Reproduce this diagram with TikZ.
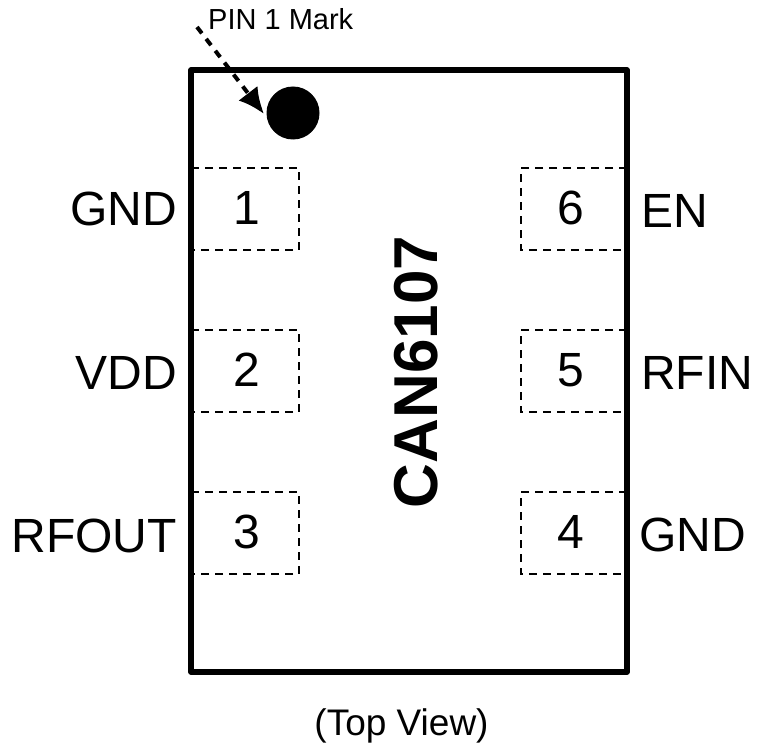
\documentclass[tikz,border=0pt]{standalone}
\usepackage{fontspec}
\setmainfont{Liberation Sans}
\usetikzlibrary{arrows.meta}
\begin{document}
\begin{tikzpicture}[x=1pt,y=-1pt,
  pad/.style={draw,line width=2pt,dash pattern=on 8pt off 6pt},
  lab/.style={font=\fontsize{48}{48}\selectfont,inner sep=0pt},
  pinlab/.style={font=\fontsize{48}{48}\selectfont,inner sep=0pt,anchor=base east},
  pinlabr/.style={font=\fontsize{48}{48}\selectfont,inner sep=0pt,anchor=base west}]
\useasboundingbox (0,0) rectangle (757,749);
\fill[white] (0,0) rectangle (757,749);
\foreach \n/\y/\t in {p1/168/1,p2/330/2,p3/492/3}{
 \draw[pad] (191,\y) -- (299,\y) -- (299,\y+82) -- (191,\y+82);
 \node[lab] (\n) at (247,\y+40) {\t};
}
\foreach \n/\y/\t in {p6/168/6,p5/330/5,p4/492/4}{
 \draw[pad] (627,\y) -- (521,\y) -- (521,\y+82) -- (627,\y+82);
 \node[lab] (\n) at (571,\y+40) {\t};
}
\draw[line width=5.5pt,line join=round] (191,70) rectangle (627,672);
\fill (293,113) circle (26.5);
\coordinate (tail) at (197,27);
\coordinate (head) at (264,114);
\node[font=\fontsize{29}{29}\selectfont,anchor=base west,inner sep=0pt] (mark) at (208,30) {PIN 1 Mark};
\draw[line width=4pt,dash pattern=on 8pt off 7pt,-{Latex[length=26pt,width=24pt]}] (tail) -- (head);
\node[pinlab] (gndl) at (177,225) {GND};
\node[pinlab] (vdd) at (177,389) {VDD};
\node[pinlab] (rfout) at (177,552) {RFOUT};
\node[pinlabr] (en) at (641,227) {EN};
\node[pinlabr] (rfin) at (641,389) {RFIN};
\node[pinlabr] (gndr) at (639,551) {GND};
\node[font=\bfseries\fontsize{62}{62}\selectfont,rotate=90,inner sep=0pt] (chip) at (416,372) {CAN6107};
\node[font=\fontsize{37}{37}\selectfont,inner sep=0pt] (top) at (401.5,726) {(Top View)};
\end{tikzpicture}
\end{document}
